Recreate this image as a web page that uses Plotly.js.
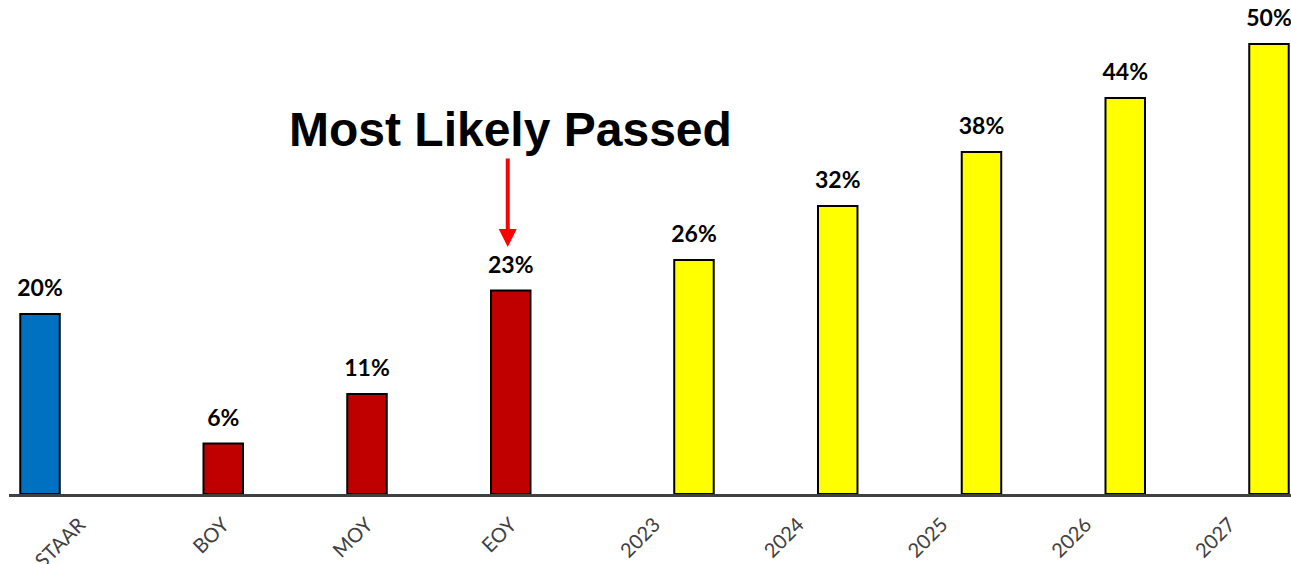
<!DOCTYPE html>
<html>
<head>
<meta charset="utf-8">
<script src="https://cdn.plot.ly/plotly-3.0.1.min.js"></script>
<style>html,body{margin:0;padding:0;background:#fff;}#chart{width:1291px;height:564px;}</style>
</head>
<body>
<div id="chart"></div>
<script>
// Categories along the x axis
const categories = ['STAAR', 'BOY', 'MOY', 'EOY', '2023', '2024', '2025', '2026', '2027'];
// Series values (percent); null where a series has no bar
const staarValues      = [20, null, null, null, null, null, null, null, null];
const assessmentValues = [null, 5.6, 11.1, 22.6, null, null, null, null, null];
const projectedValues  = [null, null, null, null, 26, 32, 38, 44, 50];
const seriesNames = ['STAAR', 'Assessment', 'Projection'];
const seriesColors = ['#0070C0', '#C00000', '#FFFF00'];
const calloutText = 'Most Likely Passed';
const calloutCategory = 'EOY';

const seriesValues = [staarValues, assessmentValues, projectedValues];

const traces = seriesValues.map((vals, i) => ({
  type: 'bar',
  name: seriesNames[i],
  x: categories,
  y: vals,
  marker: { color: seriesColors[i], line: { color: '#000000', width: 2 } },
  texttemplate: '<span style="font-size:23px">%{y:.0f}%</span><br> ',
  textposition: 'outside',
  constraintext: 'none',
  cliponaxis: false,
  textfont: { family: 'Lato, "Open Sans", sans-serif', size: 10, color: '#000000', weight: 'bold' },
  hoverinfo: 'x+y'
}));

const layout = {
  width: 1291,
  height: 564,
  margin: { l: 9, r: 0, t: 0, b: 70, autoexpand: false },
  paper_bgcolor: '#ffffff',
  plot_bgcolor: '#ffffff',
  showlegend: false,
  barmode: 'group',
  bargap: 0.176,
  bargroupgap: 0,
  xaxis: {
    type: 'category',
    range: [-0.4904, 8.4278],
    showline: true,
    linecolor: '#404040',
    linewidth: 3,
    showgrid: false,
    zeroline: false,
    ticks: '',
    tickangle: -45,
    ticklabelstandoff: 8,
    automargin: false,
    tickfont: { family: 'Lato, "Open Sans", sans-serif', size: 20, color: '#404040' },
    fixedrange: true
  },
  yaxis: {
    range: [0, 54.89],
    visible: false,
    showgrid: false,
    zeroline: false,
    fixedrange: true
  },
  annotations: [
    {
      xref: 'x', yref: 'paper',
      x: calloutCategory, y: 1 - 130 / 494,
      text: '<b>' + calloutText + '</b>',
      showarrow: false,
      font: { family: '"Liberation Sans", Arial, sans-serif', size: 48, color: '#000000' },
      xanchor: 'center', yanchor: 'middle'
    },
    {
      xref: 'x', yref: 'paper',
      x: calloutCategory, y: 1 - 247 / 494,
      xshift: -3,
      text: '',
      showarrow: true,
      arrowhead: 2,
      arrowsize: 0.9,
      arrowwidth: 4,
      arrowcolor: '#FF0000',
      ax: 0, ay: -90
    }
  ]
};

Plotly.newPlot('chart', traces, layout, { displayModeBar: false, staticPlot: true });
</script>
</body>
</html>
